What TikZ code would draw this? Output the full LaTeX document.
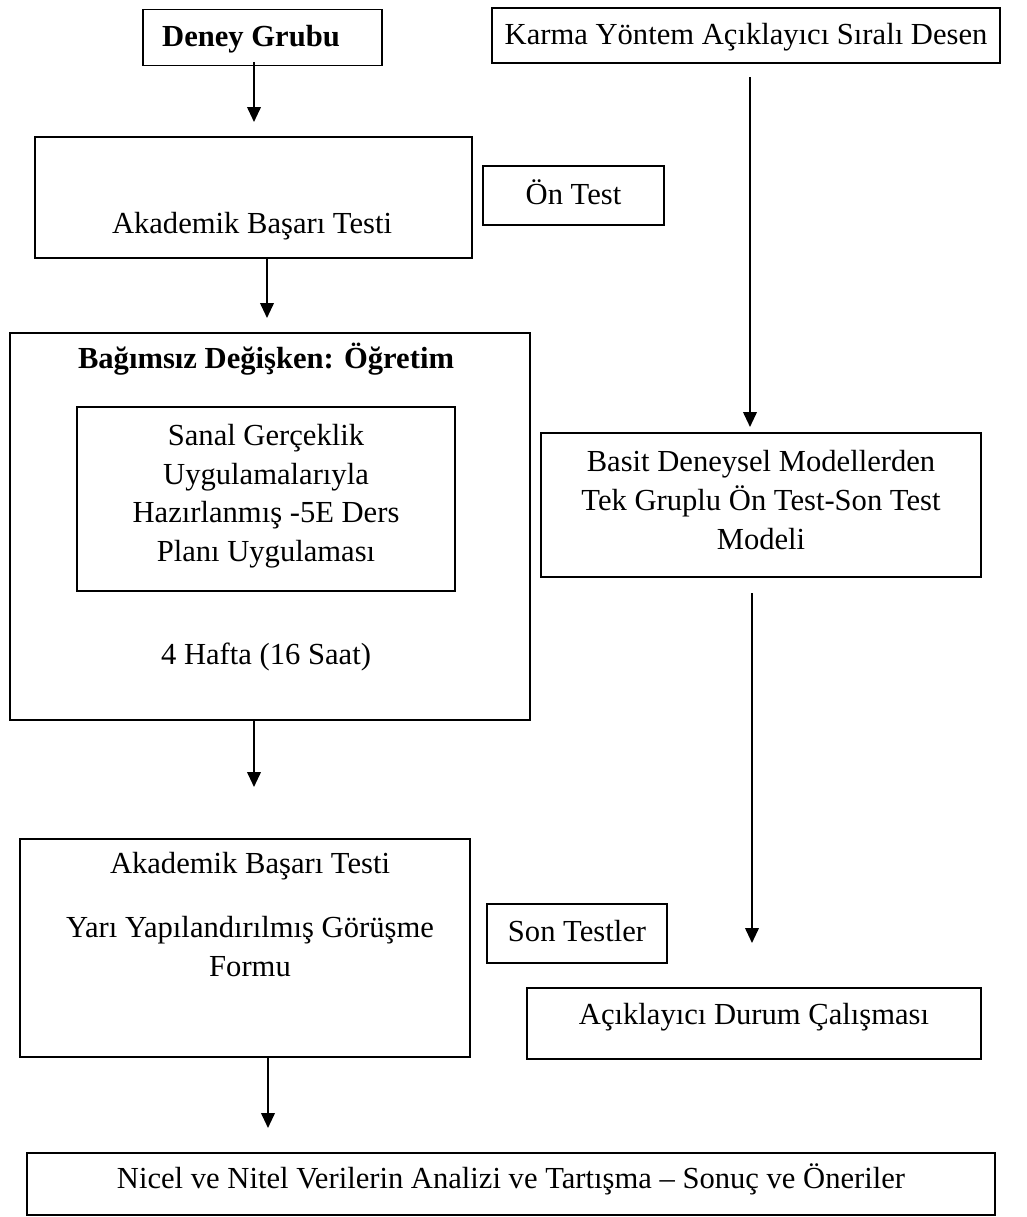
\documentclass[tikz,border=0pt]{standalone}
\usepackage{fontspec}
\setmainfont{Liberation Serif}
\usetikzlibrary{arrows.meta}
\begin{document}
\begin{tikzpicture}[x=0.5pt,y=-0.5pt,
  boxn/.style={draw, line width=0.9pt, inner sep=0pt, align=center,
    font=\fontsize{15.3}{19.3}\selectfont},
  txt/.style={inner sep=0pt, align=center, font=\fontsize{15.3}{19.3}\selectfont},
  btxt/.style={txt, font=\fontsize{15.3}{19.3}\selectfont\bfseries},
  arr/.style={line width=1pt, -{Triangle[length=7.5pt,width=6.8pt]}}]
\useasboundingbox (0,0) rectangle (1027,1217);
% boxes
\node[boxn, minimum width=119.5pt, minimum height=28pt] (deney) at (262.5,37.5) {};
\node[btxt] (deneyt) at (251,39) {Deney Grubu};
\node[boxn, minimum width=254pt, minimum height=27.5pt] (karma) at (746,35.5) {};
\node[txt] (karmat) at (746,37) {Karma Yöntem Açıklayıcı Sıralı Desen};
\node[boxn, minimum width=218.5pt, minimum height=60.5pt] (ak1) at (253.5,197.5) {};
\node[txt] (ak1t) at (252,226) {Akademik Başarı Testi};
\node[boxn, minimum width=90.5pt, minimum height=29.5pt] (ontest) at (573.5,195.5) {};
\node[txt] (ontestt) at (573.5,192) {Ön Test};
\node[boxn, minimum width=260pt, minimum height=193.5pt] (bag) at (270,526.5) {};
\node[btxt] (bagt) at (266,359) {Bağımsız Değişken: Öğretim};
\node[boxn, minimum width=189pt, minimum height=92pt] (inner) at (266,499) {};
\node[txt] (innert) at (266,496) {Sanal Gerçeklik\\Uygulamalarıyla\\Hazırlanmış -5E Ders\\Planı Uygulaması};
\node[txt] (hafta) at (266,657) {4 Hafta (16 Saat)};
\node[boxn, minimum width=220pt, minimum height=72pt] (basit) at (761,505) {};
\node[txt] (basitt) at (761,500) {Basit Deneysel Modellerden\\Tek Gruplu Ön Test-Son Test\\Modeli};
\node[boxn, minimum width=225pt, minimum height=109pt] (ak2) at (245,948) {};
\node[txt] (ak2a) at (250,866) {Akademik Başarı Testi};
\node[txt] (ak2b) at (250,946.5) {Yarı Yapılandırılmış Görüşme\\Formu};
\node[boxn, minimum width=90pt, minimum height=29.5pt] (son) at (577,933.5) {};
\node[txt] (sont) at (577,931) {Son Testler};
\node[boxn, minimum width=227pt, minimum height=35.5pt] (acik) at (754,1023.5) {};
\node[txt] (acikt) at (754,1017) {Açıklayıcı Durum Çalışması};
\node[boxn, minimum width=484pt, minimum height=31pt] (nicel) at (511,1184) {};
\node[txt] (nicelt) at (511,1179) {Nicel ve Nitel Verilerin Analizi ve Tartışma – Sonuç ve Öneriler};
% arrow end points
\coordinate (a1s) at (254,62);  \coordinate (a1e) at (254,122);
\coordinate (a2s) at (267,258); \coordinate (a2e) at (267,318);
\coordinate (a3s) at (254,720); \coordinate (a3e) at (254,787);
\coordinate (a4s) at (268,1057); \coordinate (a4e) at (268,1128);
\coordinate (r1s) at (750,77);  \coordinate (r1e) at (750,427);
\coordinate (r2s) at (752,593); \coordinate (r2e) at (752,943);
\draw[arr] (a1s) -- (a1e);
\draw[arr] (a2s) -- (a2e);
\draw[arr] (a3s) -- (a3e);
\draw[arr] (a4s) -- (a4e);
\draw[arr] (r1s) -- (r1e);
\draw[arr] (r2s) -- (r2e);
\end{tikzpicture}
\end{document}
